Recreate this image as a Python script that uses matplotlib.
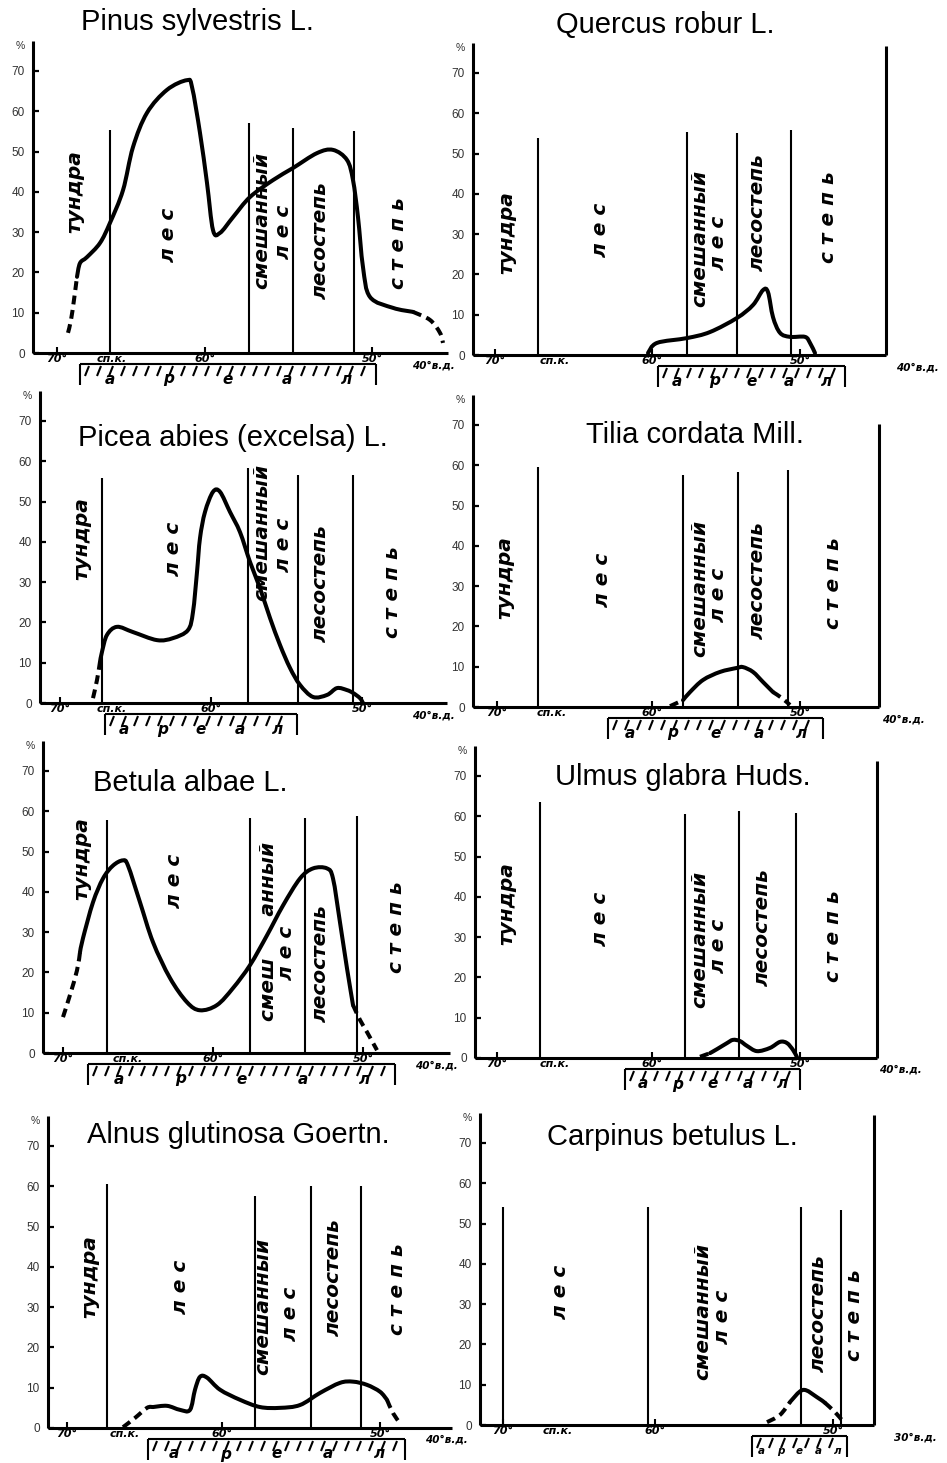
import matplotlib
matplotlib.use("Agg")
import matplotlib.pyplot as plt
from matplotlib.path import Path
from matplotlib.patches import PathPatch
import numpy as np

# ---------------------------------------------------------------------------
# Share of each species (%) along the meridional profile 70°–40° N.
# x = distance along the profile (drawing units from the y axis), y = %.
# ---------------------------------------------------------------------------
pinus_x = [35, 38, 41, 44, 47, 54, 67, 77, 90, 100, 114, 134, 154, 159, 167, 174, 180, 187,
           200, 217, 240, 260, 284, 300, 314, 320, 325, 330, 337, 360, 380, 397, 407, 410]
pinus_y = [5.0, 8.2, 13.2, 18.9, 22.3, 23.8, 27.3, 32.3, 40.4, 51.1, 59.6, 65.3, 67.7, 66.0,
           54.6, 42.2, 30.5, 29.8, 33.7, 38.7, 42.9, 45.9, 49.6, 50.4, 47.9, 42.9, 33.7, 21.3,
           13.9, 11.2, 10.2, 8.2, 5.0, 2.5]

quercus_x = [175, 184, 214, 237, 264, 280, 290, 295, 300, 307, 317, 332, 337, 342]
quercus_y = [0.5, 3.0, 4.2, 5.7, 9.2, 12.4, 16.1, 15.6, 9.4, 5.5, 4.5, 4.5, 3.0, 0.5]

picea_x = [53, 57, 60, 62, 67, 77, 93, 117, 133, 148, 153, 157, 160, 165, 173, 180, 190, 200,
           210, 220, 230, 240, 250, 260, 273, 287, 297, 307, 313, 320, 323]
picea_y = [1.2, 5.7, 10.2, 12.7, 16.9, 18.9, 17.6, 15.6, 16.1, 18.1, 22.6, 32.5, 40.9, 47.4,
           52.4, 52.4, 47.4, 42.4, 35.0, 28.5, 21.1, 14.4, 8.7, 4.5, 1.5, 2.0, 3.7, 3.2, 2.5,
           1.2, 0.0]

tilia_x = [197, 210, 217, 230, 247, 264, 270, 280, 290, 300, 309, 317]
tilia_y = [0.2, 1.7, 3.7, 6.7, 8.7, 9.7, 9.9, 8.7, 6.2, 3.7, 2.2, 0.5]

betula_x = [20, 27, 34, 37, 40, 50, 60, 70, 80, 85, 97, 110, 127, 144, 157, 174, 190, 207,
            224, 240, 257, 270, 284, 290, 297, 304, 310, 317, 324, 334]
betula_y = [8.9, 14.4, 20.5, 25.0, 28.5, 37.4, 43.3, 46.5, 47.8, 46.5, 37.4, 27.5, 18.6,
            12.6, 10.6, 11.9, 16.1, 21.8, 29.2, 36.6, 43.3, 45.8, 45.8, 43.3, 32.4, 21.0,
            11.9, 8.2, 5.2, 0.7]

ulmus_x = [225, 235, 242, 252, 258, 265, 272, 282, 295, 305, 312, 318, 322]
ulmus_y = [0.3, 1.2, 2.2, 3.7, 4.5, 4.2, 3.0, 1.7, 2.5, 4.0, 3.7, 2.0, 0.2]

alnus_x = [75, 87, 99, 105, 119, 132, 142, 147, 152, 159, 172, 192, 212, 232, 252, 272, 292,
           305, 319, 332, 339, 345, 352]
alnus_y = [0.2, 2.5, 5.0, 5.2, 5.5, 4.5, 4.5, 9.5, 12.7, 12.5, 9.5, 7.0, 5.2, 5.0, 5.7, 8.7,
           11.2, 11.5, 10.7, 9.0, 7.0, 3.7, 1.2]

carpinus_x = [287, 300, 310, 323, 337, 345, 355, 362]
carpinus_y = [0.7, 2.5, 5.7, 8.7, 6.9, 5.5, 3.2, 1.2]

titles = ["Pinus sylvestris L.", "Quercus robur L.", "Picea abies (excelsa) L.",
          "Tilia cordata Mill.", "Betula albae L.", "Ulmus glabra Huds.",
          "Alnus glutinosa Goertn.", "Carpinus betulus L."]

y_ticks = [0, 10, 20, 30, 40, 50, 60, 70]
range_letters = ["а", "р", "е", "а", "л"]
zone_texts = ["тундра", "л е с", "смешанный", "л е с", "лесостепь", "с т е п ь"]

# ---------------------------------------------------------------------------
# Layout (pixels) and drawing helpers
# ---------------------------------------------------------------------------
FIG_W, FIG_H = 947, 1463
PX = 4.03          # pixels per percent
Y_TOP = 77.5

HAND = dict(family="DejaVu Sans", style="italic", weight="bold", color="black")
PRINT = dict(family="Liberation Sans")

fig = plt.figure(figsize=(FIG_W / 100, FIG_H / 100), dpi=100)
fig.patch.set_facecolor("white")

panels = [
    dict(x0=33, y0=353, w=415, right=None, x=pinus_x, y=pinus_y, solid=(3, 30),
         zones=[77, 216, 260, 321], ztop=[55.3, 57.1, 55.8, 55.1],
         labels=[(42, 40), (135, 29.3), (229, 33), (250, 30), (287, 28), (365, 27.3)],
         title=(164, 82.1), deg=[24, 172, 339], spk=79, end=(400, "40°в.д."), rng=(47, 343)),
    dict(x0=473, y0=355, w=413, right=76.7, x=quercus_x, y=quercus_y, solid=(0, 13),
         zones=[65, 214, 264, 318], ztop=[53.8, 55.3, 55.1, 55.8],
         labels=[(34, 30.3), (127, 31), (227, 29), (245, 27.8), (284, 35.5), (355, 34.2)],
         title=(192, 81.9), deg=[22, 179, 327], spk=82, end=(444, "40°в.д."), rng=(185, 372)),
    dict(x0=40, y0=703, w=407, right=None, x=picea_x, y=picea_y, solid=(2, 30),
         zones=[62, 208, 258, 313], ztop=[55.8, 58.3, 56.6, 56.6],
         labels=[(42, 40.9), (133, 38.2), (222, 42.2), (243, 39.2), (280, 29.8), (352, 27.5)],
         title=(193, 65.8), deg=[20, 171, 322], spk=72, end=(393, "40°в.д."), rng=(65, 257)),
    dict(x0=473, y0=707, w=406, right=70.2, x=tilia_x, y=tilia_y, solid=(1, 9),
         zones=[65, 210, 265, 315], ztop=[59.6, 57.6, 58.3, 58.8],
         labels=[(32, 32), (129, 31.5), (227, 29.5), (245, 27.8), (284, 31.5), (360, 30.8)],
         title=(222, 67.5), deg=[24, 179, 327], spk=79, end=(430, "40°в.д."), rng=(135, 350)),
    dict(x0=43, y0=1053, w=407, right=None, x=betula_x, y=betula_y, solid=(3, 26),
         zones=[64, 207, 262, 314], ztop=[57.7, 58.2, 58.4, 58.9],
         labels=[(39, 48.3), (132, 42.8), (225, 30.2), (244, 24.8), (277, 22.3), (354, 31.2)],
         title=(147, 67), deg=[20, 170, 320], spk=85, end=(393, "40°в.д."), rng=(45, 352),
         mixed="смеш      анный"),
    dict(x0=475, y0=1058, w=402, right=73.8, x=ulmus_x, y=ulmus_y, solid=(1, 12),
         zones=[65, 210, 264, 321], ztop=[63.6, 60.6, 61.3, 60.8],
         labels=[(32, 38.2), (125, 34.4), (225, 29.4), (243, 27.7), (287, 32.4), (358, 30.2)],
         title=(208, 69.8), deg=[22, 177, 325], spk=80, end=(425, "40°в.д."), rng=(150, 325)),
    dict(x0=48, y0=1428, w=404, right=None, x=alnus_x, y=alnus_y, solid=(3, 20),
         zones=[59, 207, 263, 313], ztop=[60.6, 57.6, 60.1, 60.1],
         labels=[(42, 37.7), (132, 34.9), (215, 30.2), (242, 28.2), (285, 37.4), (349, 34.4)],
         title=(190, 72.6), deg=[19, 174, 332], spk=77, end=(398, "40°в.д."), rng=(100, 357)),
    dict(x0=480, y0=1425, w=394, right=77.0, x=carpinus_x, y=carpinus_y, solid=(2, 5),
         zones=[23, 168, 321, 361], ztop=[54.1, 54.1, 54.1, 53.3],
         labels=[None, (80, 33), (223, 28.3), (243, 26.8), (338, 27.8), (375, 27.3)],
         title=(192, 71.5), deg=[23, 175, 353], spk=78, end=(435, "30°в.д."), rng=(272, 367)),
]

LW_CURVE = 2.9
DASH = (0, (2.2, 1.4))


def smooth_path(xs, ys):
    """Cubic Bezier path through the given points (Catmull-Rom tangents)."""
    pts = np.column_stack([xs, ys]).astype(float)
    n = len(pts)
    verts = [pts[0]]
    codes = [Path.MOVETO]
    for k in range(n - 1):
        p0 = pts[k - 1] if k > 0 else pts[k]
        p1, p2 = pts[k], pts[k + 1]
        p3 = pts[k + 2] if k + 2 < n else pts[k + 1]
        verts += [p1 + (p2 - p0) / 6.0, p2 - (p3 - p1) / 6.0, p2]
        codes += [Path.CURVE4] * 3
    return Path(verts, codes)


def draw_curve(ax, x, y, solid):
    i0, i1 = solid
    ax.add_patch(PathPatch(smooth_path(x[i0:i1 + 1], y[i0:i1 + 1]), fill=False,
                           edgecolor="black", lw=LW_CURVE, capstyle="round",
                           joinstyle="round"))
    if i0 > 0:
        ax.add_patch(PathPatch(smooth_path(x[:i0 + 1], y[:i0 + 1]), fill=False,
                               edgecolor="black", lw=LW_CURVE, ls=DASH, capstyle="butt"))
    if i1 < len(x) - 1:
        ax.add_patch(PathPatch(smooth_path(x[i1:], y[i1:]), fill=False,
                               edgecolor="black", lw=LW_CURVE, ls=DASH, capstyle="butt"))


def draw_range(ax, xl, xr):
    top = -11 / PX
    bot = -32 / PX
    kw = dict(color="black", lw=1.5, clip_on=False, solid_capstyle="butt")
    ax.plot([xl, xr], [top, top], **kw)
    ax.plot([xl, xl], [top, bot], **kw)
    ax.plot([xr, xr], [top, bot], **kw)
    for hx in np.arange(xl + 9, xr - 3, 12):
        ax.plot([hx, hx - 4], [top - 2 / PX, top - 12 / PX], **kw)
    n = len(range_letters)
    step = (xr - xl) / n
    size = 11 if step > 25 else 7.5
    for i, ch in enumerate(range_letters):
        ax.text(xl + step * (i + 0.5), -26 / PX, ch, ha="center", va="center",
                fontsize=size, clip_on=False, **HAND)


for i, p in enumerate(panels):
    h = Y_TOP * PX
    ax = fig.add_axes([p["x0"] / FIG_W, 1 - p["y0"] / FIG_H, p["w"] / FIG_W, h / FIG_H])
    ax.set_xlim(0, p["w"])
    ax.set_ylim(0, Y_TOP)
    ax.set_facecolor("none")
    for s in ("top", "right"):
        ax.spines[s].set_visible(False)
    for s in ("left", "bottom"):
        ax.spines[s].set_linewidth(2.2)
        ax.spines[s].set_capstyle("butt")

    # percent scale
    ax.set_yticks(y_ticks)
    ax.set_yticklabels([str(v) for v in y_ticks], fontfamily="Liberation Sans")
    ax.tick_params(axis="y", direction="in", length=4, width=1.6, pad=6,
                   labelsize=8.5, labelcolor="#333333")
    ax.text(-13, Y_TOP - 1.3, "%", ha="center", va="center", fontsize=7.5,
            color="#333333", clip_on=False, **PRINT)

    # latitude marks
    ax.set_xticks(p["deg"])
    ax.set_xticklabels(["70°", "60°", "50°"])
    for lab in ax.get_xticklabels():
        lab.set_fontfamily("DejaVu Sans")
        lab.set_fontstyle("italic")
        lab.set_fontweight("bold")
    ax.tick_params(axis="x", direction="in", length=4, width=1.5, pad=1, labelsize=8)
    ax.text(p["spk"], -6 / PX, "сп.к.", ha="center", va="center", fontsize=8,
            clip_on=False, **HAND)
    ax.text(p["end"][0], -12 / PX, p["end"][1], ha="center", va="center", fontsize=7.5,
            clip_on=False, **HAND)

    # right border of the diagram
    if p["right"] is not None:
        ax.plot([p["w"], p["w"]], [0, p["right"]], color="black", lw=2.2,
                solid_capstyle="butt", clip_on=False)

    # vegetation zone boundaries
    ax.vlines(p["zones"], 0, p["ztop"], colors="black", lw=1.5)

    # zone names
    for j, pos in enumerate(p["labels"]):
        if pos is None:
            continue
        txt = zone_texts[j]
        if j == 2 and "mixed" in p:
            txt = p["mixed"]
        ax.text(pos[0], pos[1], txt, rotation=90, ha="center", va="center",
                fontsize=14.5, **HAND)

    draw_curve(ax, p["x"], p["y"], p["solid"])
    draw_range(ax, *p["rng"])

    ax.text(p["title"][0], p["title"][1], titles[i], ha="center", va="center",
            fontsize=21, clip_on=False, **PRINT)

fig.savefig("out.png", dpi=100, facecolor="white")
